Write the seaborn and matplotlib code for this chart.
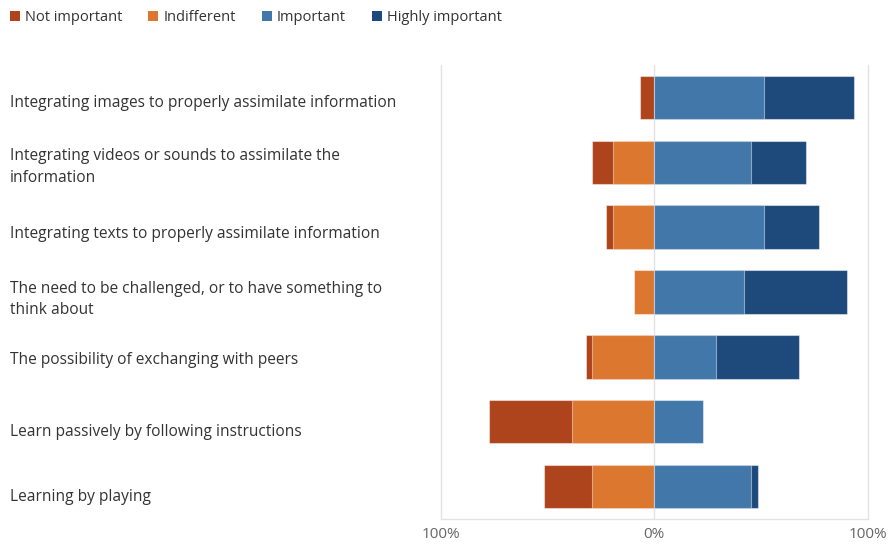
import matplotlib
matplotlib.use("Agg")
import matplotlib.pyplot as plt
from matplotlib.patches import Patch
from matplotlib.transforms import blended_transform_factory, ScaledTranslation
import seaborn as sns
import pandas as pd

categories = [
    "Integrating images to properly assimilate information",
    "Integrating videos or sounds to assimilate the\ninformation",
    "Integrating texts to properly assimilate information",
    "The need to be challenged, or to have something to\nthink about",
    "The possibility of exchanging with peers",
    "Learn passively by following instructions",
    "Learning by playing",
]
not_important = [6.5, 9.7, 3.2, 0.0, 3.2, 38.7, 22.6]
indifferent = [0.0, 19.4, 19.4, 9.7, 29.0, 38.7, 29.0]
important = [51.6, 45.2, 51.6, 41.9, 29.0, 22.6, 45.2]
highly_important = [41.9, 25.8, 25.8, 48.4, 38.7, 0.0, 3.2]

series_names = ["Not important", "Indifferent", "Important", "Highly important"]
colors = {
    "Not important": "#AE441C",
    "Indifferent": "#DC7730",
    "Important": "#4277AA",
    "Highly important": "#1E497B",
}
xticks = [-100, 0, 100]
xticklabels = ["100%", "0%", "100%"]

# nudge (px, downwards) of each label's last baseline relative to its bar centre
label_nudge_px = [9.3, 19.7, 11.3, 22.3, 7.3, 14.7, 14.7]

df = pd.DataFrame({
    "category": categories,
    "Not important": not_important,
    "Indifferent": indifferent,
    "Important": important,
    "Highly important": highly_important,
})

# Stack edges: negatives grow leftwards from zero, positives rightwards
df["neg_outer"] = -(df["Not important"] + df["Indifferent"])
df["neg_inner"] = -df["Indifferent"]
df["pos_outer"] = df["Important"] + df["Highly important"]
df["pos_inner"] = df["Important"]

sns.set_theme(style="white")
plt.rcParams["font.family"] = ["Open Sans", "DejaVu Sans"]

W, H = 888, 545
fig = plt.figure(figsize=(W / 100, H / 100), dpi=100)
ax = fig.add_axes([441 / W, 1 - 519 / H, (867.7 - 441) / W, (519 - 65) / H])

layers = [
    ("neg_outer", "Not important", "Not important"),
    ("neg_inner", "Indifferent", "Indifferent"),
    ("pos_outer", "Highly important", "Highly important"),
    ("pos_inner", "Important", "Important"),
]
for col, src, color_key in layers:
    sub = df[df[src] > 0]
    sns.barplot(
        data=sub, x=col, y="category", order=categories, orient="h",
        color=colors[color_key], saturation=1, width=0.67,
        edgecolor=(1, 1, 1, 0.45), linewidth=0.8, ax=ax, zorder=3,
    )

ax.set_xlim(-100, 100)
ax.set_ylim(6.5, -0.5)
ax.set_xlabel("")
ax.set_ylabel("")
ax.set_xticks(xticks)
ax.set_xticklabels(xticklabels)
ax.tick_params(axis="x", length=0, pad=6, labelsize=11, labelcolor="#666666")
ax.tick_params(axis="y", length=0, labelleft=False)

# Category labels, left-aligned near the figure edge
trans = blended_transform_factory(fig.transFigure, ax.transData)
for i, cat in enumerate(categories):
    off = ScaledTranslation(0, -label_nudge_px[i] / 100, fig.dpi_scale_trans)
    ax.text(10 / W, i, cat, transform=trans + off, ha="left", va="baseline",
            fontsize=11.2, color="#333333", linespacing=1.46, clip_on=False)

for x in xticks:
    ax.axvline(x, color="#E3E3E3", linewidth=1.0, zorder=1, clip_on=False)

for side in ["top", "left", "right"]:
    ax.spines[side].set_visible(False)
ax.spines["bottom"].set_color("#E3E3E3")
ax.spines["bottom"].set_linewidth(1.0)

handles = [Patch(facecolor=colors[n], edgecolor="none", label=n) for n in series_names]
fig.legend(
    handles=handles, loc="upper left", bbox_to_anchor=(10 / W, 1 - 10 / H), ncol=4,
    frameon=False, fontsize=10.5, labelcolor="#333333", borderpad=0, borderaxespad=0,
    handlelength=0.69, handleheight=0.69, handletextpad=0.34, columnspacing=1.78,
)

fig.savefig("out.png", dpi=100)
